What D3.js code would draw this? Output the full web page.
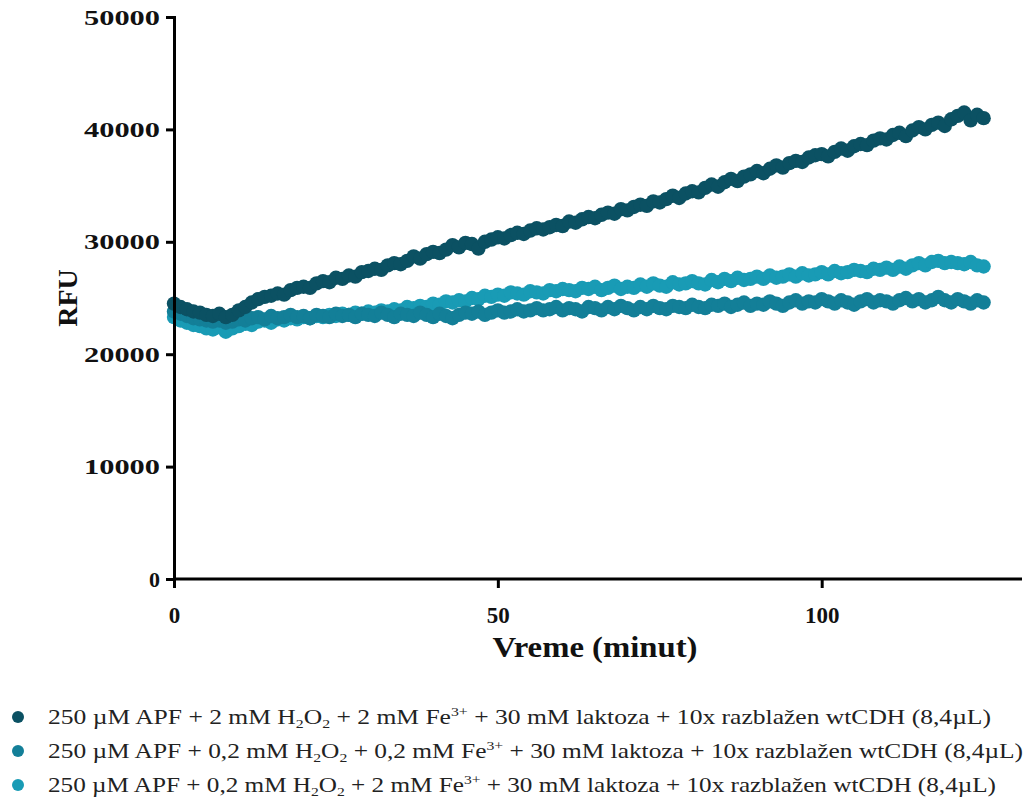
<!DOCTYPE html>
<html>
<head>
<meta charset="utf-8">
<script src="https://cdn.jsdelivr.net/npm/d3@7"></script>
<style>
  html, body { margin: 0; padding: 0; background: #fff; }
  svg { display: block; }
</style>
</head>
<body>
<svg id="chart" width="1027" height="804"></svg>
<script>
// ---- Data ----
const time = d3.range(0, 126); // minutes (0..125), one reading per minute

const seriesNames = [
  "250 µM APF + 2 mM H2O2 + 2 mM Fe3+ + 30 mM laktoza + 10x razblažen wtCDH (8,4µL)",
  "250 µM APF + 0,2 mM H2O2 + 0,2 mM Fe3+ + 30 mM laktoza + 10x razblažen wtCDH (8,4µL)",
  "250 µM APF + 0,2 mM H2O2 + 2 mM Fe3+ + 30 mM laktoza + 10x razblažen wtCDH (8,4µL)"
];

const rfuHigh = [
  24500, 24200, 24000, 23800, 23700, 23500, 23400, 23600, 23300, 23500,
  23900, 24200, 24600, 24900, 25100, 25200, 25400, 25300, 25700, 25900,
  26000, 25900, 26300, 26500, 26400, 26800, 26700, 27000, 26900, 27300,
  27400, 27600, 27500, 27900, 28100, 28000, 28300, 28700, 28500, 28900,
  29100, 29000, 29300, 29700, 29500, 29900, 29800, 29400, 30000, 30200,
  30400, 30300, 30600, 30800, 30700, 31000, 31200, 31100, 31300, 31500,
  31400, 31800, 31700, 32000, 32200, 32100, 32400, 32600, 32500, 32900,
  32800, 33100, 33300, 33200, 33600, 33500, 33800, 34100, 33900, 34300,
  34500, 34400, 34800, 35100, 34900, 35300, 35600, 35400, 35800, 36000,
  36300, 36100, 36500, 36800, 36600, 37000, 37200, 37100, 37500, 37700,
  37800, 37600, 38000, 38300, 38100, 38500, 38700, 38600, 39000, 39200,
  39100, 39500, 39700, 39400, 39900, 40200, 40000, 40400, 40600, 40300,
  40900, 41200, 41500, 40800, 41300, 41000
];

const rfuLow = [
  23800, 23600, 23400, 23200, 23100, 23000, 22900, 23000, 22800, 22900,
  23100, 23000, 23200, 23300, 23100, 23400, 23200, 23300, 23500, 23300,
  23400, 23200, 23500, 23400, 23300, 23600, 23400, 23500, 23300, 23600,
  23500, 23400, 23700, 23500, 23300, 23600, 23500, 23400, 23700, 23500,
  23300, 23600, 23400, 23200, 23500, 23700, 23600, 23800, 23500, 23700,
  23900, 23700, 23800, 24000, 23800, 23900, 24100, 23900, 24000, 24200,
  23900, 24100, 24000, 23800, 24200, 24100, 23900, 24200, 24000, 24300,
  24100, 23900, 24200, 24000, 24300, 24100, 24000, 24300, 24200, 24100,
  24400, 24200, 24100, 24400, 24300, 24500, 24200, 24400, 24600, 24300,
  24500, 24400, 24700, 24500, 24300, 24600, 24800, 24500, 24700, 24600,
  24900, 24700, 24500, 24800, 24600, 24400, 24700, 24900, 24600, 24800,
  24700, 24500, 24800, 25000, 24700, 24900, 24600, 24800, 25100, 24800,
  24600, 24900, 24700, 24500, 24800, 24600
];

const rfuMid = [
  23300, 23000, 22800, 22600, 22500, 22300, 22200, 22400, 22000, 22300,
  22500, 22700, 22600, 22900, 23000, 22800, 23100, 23000, 23200, 23100,
  23300, 23200, 23400, 23300, 23500, 23400, 23600, 23500, 23700, 23600,
  23800, 23700, 23900, 23800, 24000, 23900, 24200, 24100, 24300, 24200,
  24500, 24400, 24700, 24600, 24800, 24700, 25000, 24900, 25200, 25100,
  25300, 25200, 25500, 25400, 25300, 25600, 25500, 25400, 25700, 25600,
  25800, 25700, 25600, 25900, 25800, 26000, 25700, 25900, 26100, 25800,
  26000, 25900, 26200, 26000, 26300, 26100, 26000, 26400, 26200, 26300,
  26500, 26300, 26200, 26600, 26400, 26700, 26500, 26800, 26600, 26700,
  26900, 26700, 27000, 26800, 26900, 27100, 26900, 27200, 27000, 27100,
  27300, 27100, 27400, 27200, 27300, 27500, 27400, 27300, 27600, 27500,
  27700, 27500, 27800, 27600, 27900, 28100, 27900, 28200, 28300, 28100,
  28200, 28100, 28000, 28200, 27900, 27800
];

const seriesValues = [rfuHigh, rfuLow, rfuMid];
const seriesColors = ["#0b5163", "#137f98", "#199bb5"];

const yTicks = [0, 10000, 20000, 30000, 40000, 50000];
const xTicks = [0, 50, 100];

// legend labels split into parts (normal / sub / sup)
const legendParts = [
  [["250 µM APF + 2 mM H", ""], ["2", "sub"], ["O", ""], ["2", "sub"], [" + 2 mM Fe", ""], ["3+", "sup"], [" + 30 mM laktoza + 10x razblažen wtCDH (8,4µL)", ""]],
  [["250 µM APF + 0,2 mM H", ""], ["2", "sub"], ["O", ""], ["2", "sub"], [" + 0,2 mM Fe", ""], ["3+", "sup"], [" + 30 mM laktoza + 10x razblažen wtCDH (8,4µL)", ""]],
  [["250 µM APF + 0,2 mM H", ""], ["2", "sub"], ["O", ""], ["2", "sub"], [" + 2 mM Fe", ""], ["3+", "sup"], [" + 30 mM laktoza + 10x razblažen wtCDH (8,4µL)", ""]]
];

// ---- Chart ----
const svg = d3.select("#chart");
const serif = "'Liberation Serif', 'DejaVu Serif', serif";

const x = d3.scaleLinear().domain([0, 130]).range([174, 1016]);
const y = d3.scaleLinear().domain([0, 50000]).range([579, 17]);

// points (drawn last legend entry first so darkest is on top)
const plot = svg.append("g");
for (let s = seriesValues.length - 1; s >= 0; s--) {
  plot.append("g")
    .selectAll("circle")
    .data(time.map((t, i) => ({ t, v: seriesValues[s][i] })))
    .join("circle")
    .attr("cx", d => x(d.t))
    .attr("cy", d => y(d.v))
    .attr("r", 7.2)
    .attr("fill", seriesColors[s]);
}

// y axis
const yAxis = svg.append("g")
  .attr("transform", `translate(${x(0)},0)`)
  .call(d3.axisLeft(y).tickValues(yTicks).tickSize(8).tickPadding(6).tickFormat(d3.format("d")));
yAxis.select(".domain").attr("stroke", "#000").attr("stroke-width", 3);
yAxis.selectAll(".tick line").attr("stroke", "#000").attr("stroke-width", 3);
yAxis.selectAll(".tick text")
  .attr("font-family", serif).attr("font-weight", "bold").attr("font-size", 22)
  .attr("fill", "#111")
  .attr("textLength", 76).attr("lengthAdjust", "spacingAndGlyphs")
  .filter(d => d === 0).attr("textLength", null);

// x axis
const xAxis = svg.append("g")
  .attr("transform", `translate(0,${y(0)})`)
  .call(d3.axisBottom(x).tickValues(xTicks).tickSize(9).tickPadding(19).tickFormat(d3.format("d")));
xAxis.select(".domain").attr("stroke", "#000").attr("stroke-width", 3)
  .attr("d", `M${x(0)},0H1022`);
xAxis.selectAll(".tick line").attr("stroke", "#000").attr("stroke-width", 3);
xAxis.selectAll(".tick text")
  .attr("font-family", serif).attr("font-weight", "bold").attr("font-size", 23)
  .attr("fill", "#111");

// axis titles
svg.append("text")
  .attr("transform", `translate(77,${(y(0) + y(50000)) / 2}) rotate(-90)`)
  .attr("text-anchor", "middle")
  .attr("font-family", serif).attr("font-weight", "bold").attr("font-size", 28)
  .attr("fill", "#111")
  .text("RFU");

svg.append("text")
  .attr("x", (x(0) + 1016) / 2)
  .attr("y", 657)
  .attr("text-anchor", "middle")
  .attr("font-family", serif).attr("font-weight", "bold").attr("font-size", 30)
  .attr("fill", "#111")
  .attr("textLength", 205).attr("lengthAdjust", "spacingAndGlyphs")
  .text("Vreme (minut)");

// legend
const legend = svg.append("g");
const legendY = [717, 751, 785];
const legendWidths = [943, 975, 948];
legendParts.forEach((parts, i) => {
  legend.append("circle")
    .attr("cx", 18).attr("cy", legendY[i]).attr("r", 6)
    .attr("fill", seriesColors[i]);
  const t = legend.append("text")
    .attr("x", 48).attr("y", legendY[i] + 7)
    .attr("font-family", serif).attr("font-size", 21)
    .attr("fill", "#222");
  let shift = 0;
  parts.forEach(([txt, kind]) => {
    const ts = t.append("tspan").text(txt);
    const target = kind === "sub" ? 4 : kind === "sup" ? -8 : 0;
    if (kind) ts.attr("font-size", 13);
    ts.attr("dy", target - shift);
    shift = target;
  });
  t.attr("textLength", legendWidths[i]).attr("lengthAdjust", "spacingAndGlyphs");
});
</script>
</body>
</html>
